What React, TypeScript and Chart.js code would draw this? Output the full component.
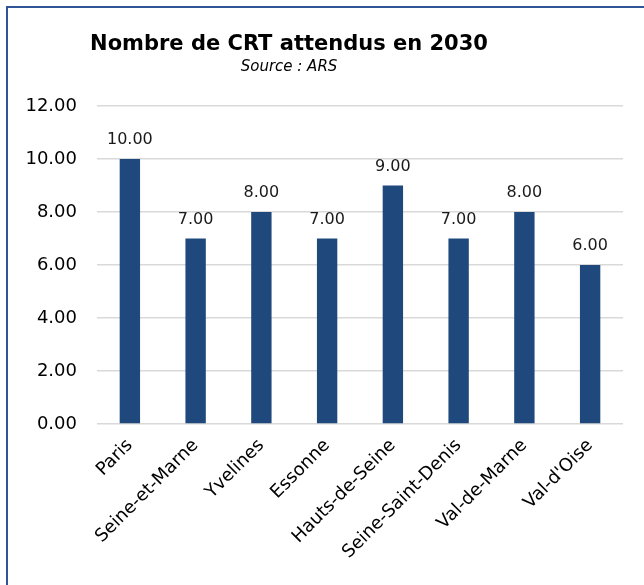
import React, { useEffect, useRef } from "react";
import { Chart, registerables } from "chart.js";

Chart.register(...registerables);

const categories = [
  "Paris",
  "Seine-et-Marne",
  "Yvelines",
  "Essonne",
  "Hauts-de-Seine",
  "Seine-Saint-Denis",
  "Val-de-Marne",
  "Val-d'Oise",
];
const values = [10, 7, 8, 7, 9, 7, 8, 6];
const yTicks = [0, 2, 4, 6, 8, 10, 12];
const titleText = "Nombre de CRT attendus en 2030";
const subtitleText = "Source : ARS";

const FONT = "'DejaVu Sans', Verdana, sans-serif";
const BAR_COLOR = "#1F497D";

const labelsPlugin = {
  id: "valueLabels",
  afterDatasetsDraw(chart: any) {
    const ctx = chart.ctx;
    const meta = chart.getDatasetMeta(0);
    ctx.save();
    ctx.font = `16px ${FONT}`;
    ctx.fillStyle = "#1a1a1a";
    ctx.textAlign = "center";
    ctx.textBaseline = "bottom";
    meta.data.forEach((bar: any, i: number) => {
      ctx.fillText(values[i].toFixed(2), bar.x, bar.y - 11);
    });
    ctx.restore();
  },
};

const titlePlugin = {
  id: "customTitle",
  afterDraw(chart: any) {
    const ctx = chart.ctx;
    ctx.save();
    ctx.fillStyle = "#000";
    ctx.textAlign = "center";
    ctx.textBaseline = "alphabetic";
    ctx.font = `bold 21px ${FONT}`;
    ctx.fillText(titleText, 289, 50);
    ctx.font = `italic 15px ${FONT}`;
    ctx.fillText(subtitleText, 289, 71);
    ctx.restore();
  },
};

export default function App() {
  const canvasRef = useRef<HTMLCanvasElement>(null);

  useEffect(() => {
    const chart = new Chart(canvasRef.current!, {
      type: "bar",
      data: {
        labels: categories,
        datasets: [
          {
            data: values,
            backgroundColor: BAR_COLOR,
            borderWidth: 0,
            categoryPercentage: 1,
            barPercentage: 0.31,
          },
        ],
      },
      options: {
        animation: false,
        responsive: false,
        maintainAspectRatio: false,
        layout: { padding: { top: 106, right: 21, left: 0, bottom: 0 } },
        plugins: {
          legend: { display: false },
          tooltip: { enabled: false },
          title: { display: false },
        },
        scales: {
          x: {
            grid: { display: false, drawTicks: false },
            border: { display: false },
            ticks: {
              color: "#000",
              font: { family: FONT, size: 18 },
              maxRotation: 45,
              minRotation: 45,
              padding: 11,
              autoSkip: false,
            },
            afterFit(scale: any) {
              scale.height = 161;
            },
          },
          y: {
            min: 0,
            max: 12,
            grid: { color: "#d9d9d9", lineWidth: 1.5, drawTicks: false },
            border: { display: false },
            afterBuildTicks(scale: any) {
              scale.ticks = yTicks.map((v) => ({ value: v }));
            },
            ticks: {
              color: "#000",
              font: { family: FONT, size: 18 },
              padding: 20,
              callback: (v: any) => Number(v).toFixed(2),
            },
            afterFit(scale: any) {
              scale.width = 97;
            },
          },
        },
      },
      plugins: [labelsPlugin, titlePlugin],
    });
    return () => chart.destroy();
  }, []);

  return (
    <div style={{ position: "absolute", left: 0, top: 0, width: 644, height: 585, background: "#fff" }}>
      <div
        style={{
          position: "absolute",
          left: 6,
          top: 6,
          width: 700,
          height: 700,
          border: "2px solid #2F5597",
          boxSizing: "border-box",
        }}
      />
      <canvas
        ref={canvasRef}
        width={644}
        height={585}
        style={{ position: "absolute", left: 0, top: 0 }}
      />
    </div>
  );
}
